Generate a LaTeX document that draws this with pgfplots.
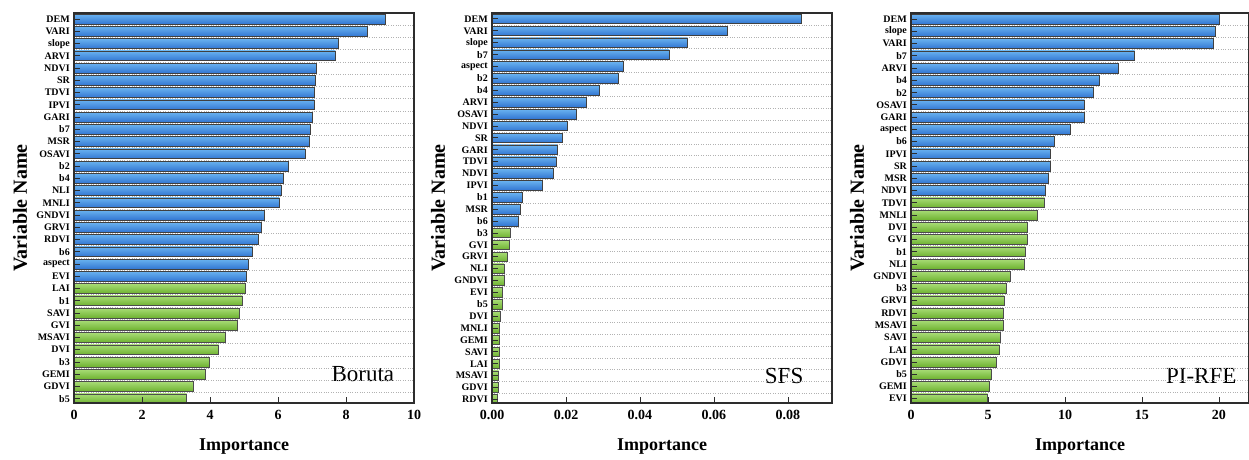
\documentclass[border=0pt]{standalone}
\usepackage{fontspec}
\setmainfont{Liberation Serif}
\usepackage{pgfplots}
\usepackage{pgfplotstable}
\pgfplotsset{compat=1.18}
\definecolor{bluetop}{RGB}{105,178,240}
\definecolor{bluemid}{RGB}{192,232,255}
\definecolor{bluebot}{RGB}{50,118,210}
\definecolor{greentop}{RGB}{168,220,118}
\definecolor{greenmid}{RGB}{230,249,205}
\definecolor{greenbot}{RGB}{110,178,48}
\definecolor{framec}{RGB}{45,45,45}
\pgfplotstableread{
i v
0 9.15
1 8.62
2 7.76
3 7.69
4 7.14
5 7.10
6 7.08
7 7.06
8 7.02
9 6.96
10 6.92
11 6.79
12 6.31
13 6.17
14 6.11
15 6.04
16 5.59
17 5.51
18 5.43
19 5.25
20 5.13
21 5.07
22 5.04
23 4.95
24 4.85
25 4.79
26 4.46
27 4.25
28 3.99
29 3.86
30 3.51
31 3.31
}\boruta
\pgfplotstableread{
i v
0 0.0837
1 0.0637
2 0.0529
3 0.0479
4 0.0355
5 0.0342
6 0.0289
7 0.0256
8 0.0228
9 0.0204
10 0.0191
11 0.0177
12 0.0174
13 0.0166
14 0.0135
15 0.0081
16 0.0076
17 0.0071
18 0.0049
19 0.0046
20 0.0042
21 0.0032
22 0.0032
23 0.0029
24 0.0027
25 0.0022
26 0.0019
27 0.0019
28 0.0019
29 0.0019
30 0.0018
31 0.0018
32 0.0014
}\sfs
\pgfplotstableread{
i v
0 20.04
1 19.78
2 19.63
3 14.52
4 13.46
5 12.21
6 11.84
7 11.26
8 11.26
9 10.37
10 9.31
11 9.05
12 9.03
13 8.92
14 8.74
15 8.68
16 8.18
17 7.58
18 7.58
19 7.42
20 7.36
21 6.45
22 6.21
23 6.04
24 6.00
25 6.00
26 5.82
27 5.74
28 5.54
29 5.24
30 5.09
31 4.98
}\pirfe
\pgfplotsset{
  imp/.style={
    scale only axis, width=340pt, height=390pt, anchor=south west,
    y dir=reverse, xmin=0, ymin=-0.5,
    axis line style={framec, line width=1.1pt},
    tick align=inside, xtick pos=bottom, ytick pos=left,
    major tick length=6pt, minor tick length=0pt,
    tick style={framec, line width=0.9pt},
    yminorgrids, minor grid style={dotted, gray!60, line width=0.5pt},
    yticklabel style={font=\bfseries\fontsize{10}{10}\selectfont, inner sep=1pt, xshift=-3pt},
    xticklabel style={font=\bfseries\fontsize{14}{14}\selectfont, yshift=-4pt},
    /pgf/number format/assume math mode=true,
    scaled x ticks=false,
    xlabel={Importance}, ylabel={Variable Name},
    xlabel style={font=\bfseries\fontsize{18}{18}\selectfont, at={(axis description cs:0.5,0)}, anchor=center, yshift=-44pt},
    ylabel style={font=\bfseries\fontsize{20}{20}\selectfont, at={([xshift=-54pt]axis description cs:0,0.5)}, anchor=center},
    axis on top,
  },
  bl/.style={xbar, bar shift=0pt, bar width=0.8, top color=bluetop, middle color=bluemid, bottom color=bluebot, draw=black!75, line width=0.6pt},
  gr/.style={xbar, bar shift=0pt, bar width=0.8, top color=greentop, middle color=greenmid, bottom color=greenbot, draw=black!70, line width=0.6pt},
}
\begin{document}
\begin{tikzpicture}
% ---------------- Boruta
\begin{axis}[imp, at={(74pt,56pt)}, xmax=10, ymax=31.35,
  xtick={0,2,4,6,8,10},
  ytick={0,...,31}, minor ytick={0.5,1.5,...,31.5},
  yticklabels={DEM,VARI,slope,ARVI,NDVI,SR,TDVI,IPVI,GARI,b7,MSR,OSAVI,b2,b4,NLI,MNLI,GNDVI,GRVI,RDVI,b6,aspect,EVI,LAI,b1,SAVI,GVI,MSAVI,DVI,b3,GEMI,GDVI,b5}]
\pgfplotsinvokeforeach{0,...,21}{
  \addplot[bl, y filter/.expression={abs(y-#1)<0.1 ? y : nan}] table[x=v,y=i] {\boruta};
}
\pgfplotsinvokeforeach{22,...,31}{
  \addplot[gr, y filter/.expression={abs(y-#1)<0.1 ? y : nan}] table[x=v,y=i] {\boruta};
}
\node[anchor=base east, font=\fontsize{23}{23}\selectfont] at (rel axis cs:0.952,0.054) {Boruta};
\end{axis}
% ---------------- SFS
\begin{axis}[imp, at={(492pt,56pt)}, xmax=0.0919, ymax=32.3,
  xtick={0,0.02,0.04,0.06,0.08},
  xticklabel={\pgfmathprintnumber[fixed,fixed zerofill,precision=2]{\tick}},
  ytick={0,...,32}, minor ytick={0.5,1.5,...,32.5},
  yticklabels={DEM,VARI,slope,b7,aspect,b2,b4,ARVI,OSAVI,NDVI,SR,GARI,TDVI,NDVI,IPVI,b1,MSR,b6,b3,GVI,GRVI,NLI,GNDVI,EVI,b5,DVI,MNLI,GEMI,SAVI,LAI,MSAVI,GDVI,RDVI}]
\pgfplotsinvokeforeach{0,...,17}{
  \addplot[bl, y filter/.expression={abs(y-#1)<0.1 ? y : nan}] table[x=v,y=i] {\sfs};
}
\pgfplotsinvokeforeach{18,...,32}{
  \addplot[gr, y filter/.expression={abs(y-#1)<0.1 ? y : nan}] table[x=v,y=i] {\sfs};
}
\node[anchor=base east, font=\fontsize{23}{23}\selectfont] at (rel axis cs:0.926,0.049) {SFS};
\end{axis}
% ---------------- PI-RFE
\begin{axis}[imp, at={(911pt,56pt)}, width=338pt, xmax=21.95, ymax=31.35,
  xtick={0,5,10,15,20},
  ytick={0,...,31}, minor ytick={0.5,1.5,...,31.5},
  yticklabels={DEM,slope,VARI,b7,ARVI,b4,b2,OSAVI,GARI,aspect,b6,IPVI,SR,MSR,NDVI,TDVI,MNLI,DVI,GVI,b1,NLI,GNDVI,b3,GRVI,RDVI,MSAVI,SAVI,LAI,GDVI,b5,GEMI,EVI}]
\pgfplotsinvokeforeach{0,...,14}{
  \addplot[bl, y filter/.expression={abs(y-#1)<0.1 ? y : nan}] table[x=v,y=i] {\pirfe};
}
\pgfplotsinvokeforeach{15,...,31}{
  \addplot[gr, y filter/.expression={abs(y-#1)<0.1 ? y : nan}] table[x=v,y=i] {\pirfe};
}
\node[anchor=base east, font=\fontsize{23}{23}\selectfont] at (rel axis cs:0.973,0.049) {PI-RFE};
\end{axis}
\pgfresetboundingbox
\path (0,0) rectangle (1249pt,459pt);
\end{tikzpicture}
\end{document}
